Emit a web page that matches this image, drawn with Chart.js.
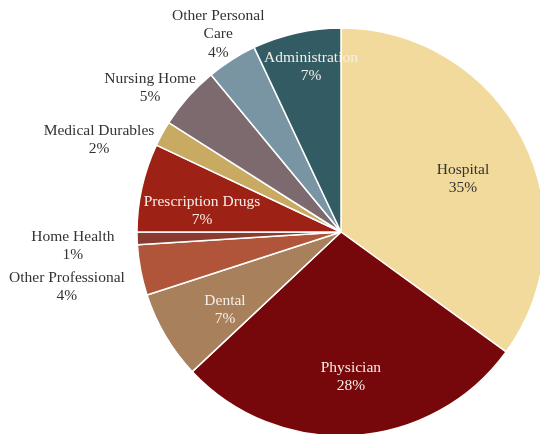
<!DOCTYPE html>
<html lang="en">
<head>
  <meta charset="UTF-8">
  <title>Health Spending by Category</title>
  <style>
    html, body { margin: 0; padding: 0; background: #fff; overflow: hidden; }
    #wrap { width: 540px; height: 434px; overflow: hidden; position: relative; }
    #spendChart { position: absolute; left: 0; top: 0; }
  </style>
</head>
<body>
  <div id="wrap">
    <canvas id="spendChart" width="682" height="464"></canvas>
  </div>

  <script src="https://cdn.jsdelivr.net/npm/chart.js"></script>
  <script>
    // spending categories, clockwise from 12 o'clock
    const categories = ['Hospital', 'Physician', 'Dental', 'Other Professional', 'Home Health',
      'Prescription Drugs', 'Medical Durables', 'Nursing Home', 'Other Personal Care', 'Administration'];
    const shares = [35, 28, 7, 4, 1, 7, 2, 5, 4, 7];
    const sliceColors = ['#F2DA9C', '#76070A', '#A8805B', '#B1553A', '#883B2E',
      '#9D2215', '#C8AA63', '#7C6A6F', '#7995A3', '#325B63'];

    // label placement: [radius factor, angle nudge in degrees], text colour
    const labelPlacement = {
      'Hospital': [0.652, 3.5, '#333'],
      'Physician': [0.712, -0.3, '#f4efe8'],
      'Dental': [0.685, -3.3, '#f4efe8'],
      'Other Professional': [1.37, -0.5, '#333'],
      'Home Health': [1.316, -1.2, '#333'],
      'Prescription Drugs': [0.689, -4, '#f4efe8'],
      'Medical Durables': [1.269, -8, '#333'],
      'Nursing Home': [1.172, -4.4, '#333'],
      'Other Personal Care': [1.142, 0.6, '#333'],
      'Administration': [0.822, 2.3, '#f4efe8']
    };
    const labelWrap = { 'Other Personal Care': ['Other Personal', 'Care'] };

    const sliceLabels = {
      id: 'sliceLabels',
      afterDatasetsDraw(chart) {
        const ctx = chart.ctx;
        const meta = chart.getDatasetMeta(0);
        const data = chart.data.datasets[0].data;
        const total = data.reduce((a, b) => a + b, 0);
        ctx.save();
        ctx.font = '15.5px "Liberation Serif", "DejaVu Serif", serif';
        ctx.textAlign = 'center';
        ctx.textBaseline = 'middle';
        meta.data.forEach((arc, i) => {
          const name = chart.data.labels[i];
          const p = arc.getProps(['x', 'y', 'startAngle', 'endAngle', 'outerRadius'], true);
          const place = labelPlacement[name];
          const ang = (p.startAngle + p.endAngle) / 2 + place[1] * Math.PI / 180;
          const r = p.outerRadius * place[0];
          const cx = p.x + Math.cos(ang) * r;
          const cy = p.y + Math.sin(ang) * r;
          const lines = (labelWrap[name] || [name]).concat([Math.round(data[i] / total * 100) + '%']);
          const lh = 18.5;
          ctx.fillStyle = place[2];
          lines.forEach((t, k) => {
            ctx.fillText(t, cx, cy + (k - (lines.length - 1) / 2) * lh);
          });
        });
        ctx.restore();
      }
    };

    const ctx = document.getElementById('spendChart').getContext('2d');
    const chart = new Chart(ctx, {
      type: 'pie',
      data: {
        labels: categories,
        datasets: [{
          data: shares,
          backgroundColor: sliceColors,
          borderColor: '#ffffff',
          borderWidth: 1.5
        }]
      },
      options: {
        responsive: false,
        animation: false,
        events: [],
        radius: 204,
        layout: { padding: 0 },
        plugins: {
          legend: { display: false },
          tooltip: { enabled: false }
        }
      },
      plugins: [sliceLabels]
    });
  </script>
</body>
</html>
